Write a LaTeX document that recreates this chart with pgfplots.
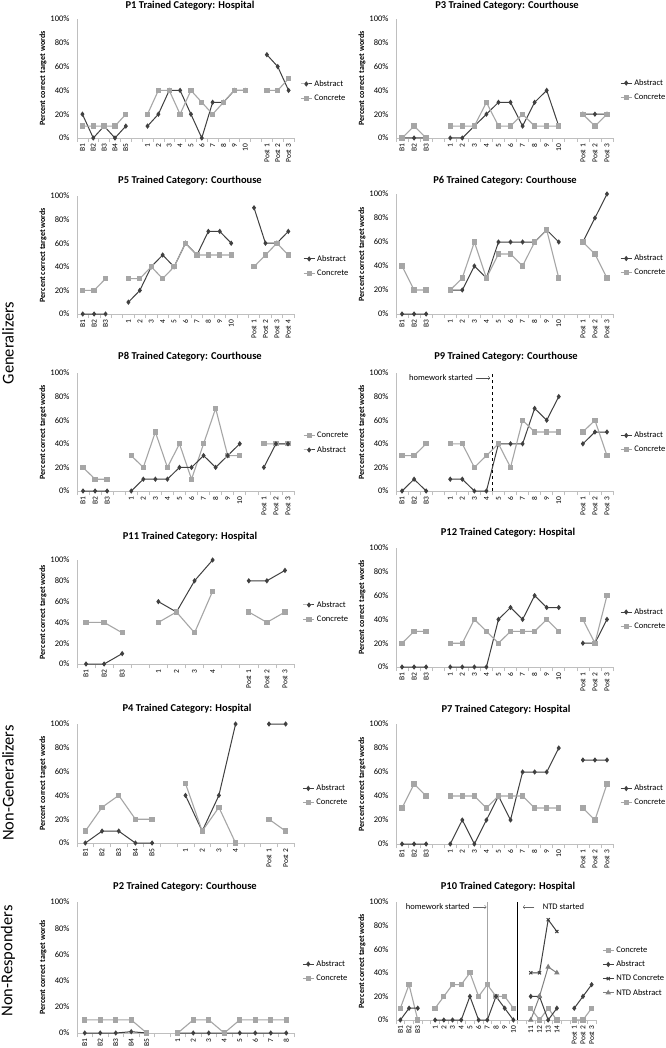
\documentclass[border=0pt]{standalone}
\usepackage{pgfplots}
\pgfplotsset{compat=1.18}
\usepackage{pgfplotstable}
\usepackage{fontspec}
\setmainfont{Carlito}
\definecolor{absc}{HTML}{404040}
\definecolor{conc}{HTML}{A6A6A6}
\definecolor{axc}{HTML}{BFBFBF}
\definecolor{ntda}{HTML}{808080}

% P1: B1-B5, gap, 1-10, gap, Post1-3
\pgfplotstableread{
x a c
0 20 10
1 0 10
2 10 10
3 0 10
4 10 20
5 nan nan
6 10 20
7 20 40
8 40 40
9 40 20
10 20 40
11 0 30
12 30 20
13 30 30
14 40 40
15 40 40
16 nan nan
17 70 40
18 60 40
19 40 50
}\tPone
% P3
\pgfplotstableread{
x a c
0 0 0
1 0 10
2 0 0
3 nan nan
4 0 10
5 0 10
6 10 10
7 20 30
8 30 10
9 30 10
10 10 20
11 30 10
12 40 10
13 10 10
14 nan nan
15 20 20
16 20 10
17 20 20
}\tPthree
% P5
\pgfplotstableread{
x a c
0 0 20
1 0 20
2 0 30
3 nan nan
4 10 30
5 20 30
6 40 40
7 50 30
8 40 40
9 60 60
10 50 50
11 70 50
12 70 50
13 60 50
14 nan nan
15 90 40
16 60 50
17 60 60
18 70 50
}\tPfive
% P6
\pgfplotstableread{
x a c
0 0 40
1 0 20
2 0 20
3 nan nan
4 20 20
5 20 30
6 40 60
7 30 30
8 60 50
9 60 50
10 60 40
11 60 60
12 70 70
13 60 30
14 nan nan
15 60 60
16 80 50
17 100 30
}\tPsix
% P8
\pgfplotstableread{
x a c
0 0 20
1 0 10
2 0 10
3 nan nan
4 0 30
5 10 20
6 10 50
7 10 20
8 20 40
9 20 10
10 30 40
11 20 70
12 30 30
13 40 30
14 nan nan
15 20 40
16 40 40
17 40 40
}\tPeight
% P9
\pgfplotstableread{
x a c
0 0 30
1 10 30
2 0 40
3 nan nan
4 10 40
5 10 40
6 0 20
7 0 30
8 40 40
9 40 20
10 40 60
11 70 50
12 60 50
13 80 50
14 nan nan
15 40 50
16 50 60
17 50 30
}\tPnine
% P11
\pgfplotstableread{
x a c
0 0 40
1 0 40
2 10 30
3 nan nan
4 60 40
5 50 50
6 80 30
7 100 70
8 nan nan
9 80 50
10 80 40
11 90 50
}\tPeleven
% P12
\pgfplotstableread{
x a c
0 0 20
1 0 30
2 0 30
3 nan nan
4 0 20
5 0 20
6 0 40
7 0 30
8 40 20
9 50 30
10 40 30
11 60 30
12 50 40
13 50 30
14 nan nan
15 20 40
16 20 20
17 40 60
}\tPtwelve
% P4
\pgfplotstableread{
x a c
0 0 10
1 10 30
2 10 40
3 0 20
4 0 20
5 nan nan
6 40 50
7 10 10
8 40 30
9 100 0
10 nan nan
11 100 20
12 100 10
}\tPfour
% P7
\pgfplotstableread{
x a c
0 0 30
1 0 50
2 0 40
3 nan nan
4 0 40
5 20 40
6 0 40
7 20 30
8 40 40
9 20 40
10 60 40
11 60 30
12 60 30
13 80 30
14 nan nan
15 70 30
16 70 20
17 70 50
}\tPseven
% P2
\pgfplotstableread{
x a c
0 0 10
1 0 10
2 0 10
3 1 10
4 0 0
5 nan nan
6 0 0
7 0 10
8 0 10
9 0 0
10 0 10
11 0 10
12 0 10
13 0 10
}\tPtwo
% P10
\pgfplotstableread{
x c a
0 10 0
1 30 10
2 0 10
3 nan nan
4 10 0
5 20 0
6 30 0
7 30 0
8 40 20
9 20 0
10 30 0
11 20 20
12 20 10
13 10 0
14 nan nan
15 10 20
16 0 20
17 10 0
18 0 10
19 nan nan
20 0 10
21 0 20
22 10 30
}\tPten
\pgfplotstableread{
x nc na
15 40 0
16 40 20
17 85 45
18 75 40
}\tPtenntd

\pgfplotsset{
 panel/.style={
  scale only axis, clip=false, unbounded coords=jump,
  axis lines=left, axis line style={-, draw=axc, line width=0.8pt},
  ymin=0, ymax=100, ytick={0,20,40,60,80,100},
  yticklabels={0\%,20\%,40\%,60\%,80\%,100\%},
  major tick length=0pt, minor tick length=4pt, tick align=outside,
  major tick style={draw=none},
  minor x tick style={draw=axc, line width=0.6pt},
  yticklabel style={font=\fontsize{8.5}{9}\selectfont, xshift=-4pt},
  xticklabel style={font=\fontsize{7.5}{8}\selectfont, rotate=90, anchor=east},
  xticklabel shift=2.5pt,
  ylabel={Percent correct target words},
  every axis y label/.style={at={(axis description cs:-0.157,0.5)}, rotate=90, anchor=center, font=\bfseries\fontsize{8}{9}\selectfont},
  legend style={draw=none, fill=none, font=\fontsize{8.5}{10}\selectfont, anchor=west, row sep=3pt, inner sep=0pt},
  legend cell align=left,
  legend image code/.code={\draw[mark repeat=2,mark phase=2,##1] plot coordinates {(0pt,0pt)(5.5pt,0pt)(11pt,0pt)};},
  /pgf/number format/assume math mode=true,
 },
 sabs/.style={color=absc, line width=1pt, mark=diamond*, mark size=1.9pt, mark options={solid, fill=absc}},
 scon/.style={color=conc, line width=1.1pt, mark=square*, mark size=2.1pt, mark options={solid, fill=conc}},
 xA/.style={xmin=-0.5, xmax=17.5, minor xtick={-0.5,0.5,...,17.5},
   xtick={0,1,2,4,5,6,7,8,9,10,11,12,13,15,16,17},
   xticklabels={B1,B2,B3,1,2,3,4,5,6,7,8,9,10,Post 1,Post 2,Post 3}},
}
\newcommand{\ttl}[3]{\node[font=\bfseries\fontsize{10.5}{12}\selectfont] at (#1pt,-#2pt) {#3};}

\begin{document}
\begin{tikzpicture}
\fill[white] (0,0) rectangle (665pt,-1048pt);
\path[use as bounding box] (0,0) rectangle (665pt,-1048pt);

\node[rotate=90, font=\fontsize{16.5}{18}\selectfont] at (8pt,-343pt) {Generalizers};
\node[rotate=90, font=\fontsize{16.5}{18}\selectfont] at (8pt,-783pt) {Non-Generalizers};
\node[rotate=90, font=\fontsize{16.5}{18}\selectfont] at (8pt,-961pt) {Non-Responders};

\ttl{190}{6}{P1 Trained Category: Hospital}
\ttl{507}{6}{P3 Trained Category: Courthouse}
\ttl{190}{181}{P5 Trained Category: Courthouse}
\ttl{505}{181}{P6 Trained Category: Courthouse}
\ttl{190}{357}{P8 Trained Category: Courthouse}
\ttl{506}{357}{P9 Trained Category: Courthouse}
\ttl{190}{537}{P11 Trained Category: Hospital}
\ttl{508}{533}{P12 Trained Category: Hospital}
\ttl{187}{709}{P4 Trained Category: Hospital}
\ttl{506}{710}{P7 Trained Category: Hospital}
\ttl{185}{887}{P2 Trained Category: Courthouse}
\ttl{508}{887}{P10 Trained Category: Hospital}

% P1
\begin{axis}[panel, at={(77pt,-138pt)}, anchor=south west, width=217pt, height=119pt,
 xmin=-0.5, xmax=19.5, minor xtick={-0.5,0.5,...,19.5},
 xtick={0,1,2,3,4,6,7,8,9,10,11,12,13,14,15,17,18,19},
 xticklabels={B1,B2,B3,B4,B5,1,2,3,4,5,6,7,8,9,10,Post 1,Post 2,Post 3},
 legend style={at={(axis description cs:1.028,0.395)}}]
\addplot[sabs] table[x=x,y=a] \tPone; \addlegendentry{Abstract}
\addplot[scon] table[x=x,y=c] \tPone; \addlegendentry{Concrete}
\end{axis}

% P3
\begin{axis}[panel, xA, at={(396pt,-138pt)}, anchor=south west, width=217pt, height=119pt,
 legend style={at={(axis description cs:1.032,0.403)}}]
\addplot[sabs] table[x=x,y=a] \tPthree; \addlegendentry{Abstract}
\addplot[scon] table[x=x,y=c] \tPthree; \addlegendentry{Concrete}
\end{axis}

% P5
\begin{axis}[panel, at={(77pt,-314pt)}, anchor=south west, width=217pt, height=118pt,
 xmin=-0.5, xmax=18.5, minor xtick={-0.5,0.5,...,18.5},
 xtick={0,1,2,4,5,6,7,8,9,10,11,12,13,15,16,17,18},
 xticklabels={B1,B2,B3,1,2,3,4,5,6,7,8,9,10,Post 1,Post 2,Post 3,Post 4},
 legend style={at={(axis description cs:1.041,0.407)}}]
\addplot[sabs] table[x=x,y=a] \tPfive; \addlegendentry{Abstract}
\addplot[scon] table[x=x,y=c] \tPfive; \addlegendentry{Concrete}
\end{axis}

% P6
\begin{axis}[panel, xA, at={(396pt,-314pt)}, anchor=south west, width=217pt, height=120pt,
 legend style={at={(axis description cs:1.032,0.404)}}]
\addplot[sabs] table[x=x,y=a] \tPsix; \addlegendentry{Abstract}
\addplot[scon] table[x=x,y=c] \tPsix; \addlegendentry{Concrete}
\end{axis}

% P8
\begin{axis}[panel, xA, at={(77pt,-491pt)}, anchor=south west, width=217pt, height=118pt,
 legend style={at={(axis description cs:1.041,0.407)}}]
\addplot[scon] table[x=x,y=c] \tPeight; \addlegendentry{Concrete}
\addplot[sabs] table[x=x,y=a] \tPeight; \addlegendentry{Abstract}
\end{axis}

% P9
\begin{axis}[panel, xA, at={(396pt,-491pt)}, anchor=south west, width=217pt, height=118pt,
 legend style={at={(axis description cs:1.032,0.411)}}]
\draw[black, dashed, line width=0.6pt] (axis cs:7.5,0) -- (axis cs:7.5,100);
\node[anchor=east, inner sep=0pt, font=\fontsize{8.5}{9}\selectfont] at (axis cs:5.89,95.8) {homework started};
\draw[->, black!70, line width=0.5pt] (axis cs:6.11,95.8) -- (axis cs:7.3,95.8);
\addplot[sabs] table[x=x,y=a] \tPnine; \addlegendentry{Abstract}
\addplot[scon] table[x=x,y=c] \tPnine; \addlegendentry{Concrete}
\end{axis}

% P11
\begin{axis}[panel, at={(77pt,-664pt)}, anchor=south west, width=217pt, height=104pt,
 xmin=-0.5, xmax=11.5, minor xtick={-0.5,0.5,...,11.5},
 xtick={0,1,2,4,5,6,7,9,10,11},
 xticklabels={B1,B2,B3,1,2,3,4,Post 1,Post 2,Post 3},
 legend style={at={(axis description cs:1.04,0.5)}}]
\addplot[sabs] table[x=x,y=a] \tPeleven; \addlegendentry{Abstract}
\addplot[scon] table[x=x,y=c] \tPeleven; \addlegendentry{Concrete}
\end{axis}

% P12
\begin{axis}[panel, xA, at={(396pt,-667pt)}, anchor=south west, width=217pt, height=119pt,
 legend style={at={(axis description cs:1.032,0.403)}}]
\addplot[sabs] table[x=x,y=a] \tPtwelve; \addlegendentry{Abstract}
\addplot[scon] table[x=x,y=c] \tPtwelve; \addlegendentry{Concrete}
\end{axis}

% P4
\begin{axis}[panel, at={(77pt,-843pt)}, anchor=south west, width=217pt, height=119pt,
 xmin=-0.5, xmax=12.5, minor xtick={-0.5,0.5,...,12.5},
 xtick={0,1,2,3,4,6,7,8,9,11,12},
 xticklabels={B1,B2,B3,B4,B5,1,2,3,4,Post 1,Post 2},
 legend style={at={(axis description cs:1.037,0.40)}}]
\addplot[sabs] table[x=x,y=a] \tPfour; \addlegendentry{Abstract}
\addplot[scon] table[x=x,y=c] \tPfour; \addlegendentry{Concrete}
\end{axis}

% P7
\begin{axis}[panel, xA, at={(396pt,-844pt)}, anchor=south west, width=217pt, height=120pt,
 legend style={at={(axis description cs:1.032,0.404)}}]
\addplot[sabs] table[x=x,y=a] \tPseven; \addlegendentry{Abstract}
\addplot[scon] table[x=x,y=c] \tPseven; \addlegendentry{Concrete}
\end{axis}

% P2
\begin{axis}[panel, at={(77pt,-1033pt)}, anchor=south west, width=217pt, height=131pt,
 xmin=-0.5, xmax=13.5, minor xtick={-0.5,0.5,...,13.5},
 xtick={0,1,2,3,4,6,7,8,9,10,11,12,13},
 xticklabels={B1,B2,B3,B4,B5,1,2,3,4,5,6,7,8},
 legend style={at={(axis description cs:1.037,0.473)}}]
\addplot[sabs] table[x=x,y=a] \tPtwo; \addlegendentry{Abstract}
\addplot[scon] table[x=x,y=c] \tPtwo; \addlegendentry{Concrete}
\end{axis}

% P10
\begin{axis}[panel, at={(396pt,-1020pt)}, anchor=south west, width=200pt, height=118pt,
 xmin=-0.5, xmax=22.5, minor xtick={-0.5,0.5,...,22.5},
 xtick={0,1,2,4,5,6,7,8,9,10,11,12,13,15,16,17,18,20,21,22},
 xticklabels={B1,B2,B3,1,2,3,4,5,6,7,8,9,10,11,12,13,14,Post 1,Post 2,Post 3},
 every axis y label/.style={at={(axis description cs:-0.17,0.5)}, rotate=90, anchor=center, font=\bfseries\fontsize{8}{9}\selectfont},
 legend style={at={(axis description cs:1.03,0.41)}}]
\draw[conc, line width=1.6pt] (axis cs:10,0) -- (axis cs:10,100);
\draw[black, line width=0.7pt] (axis cs:13.5,0) -- (axis cs:13.5,100);
\node[anchor=east, inner sep=0pt, font=\fontsize{8.5}{9}\selectfont] at (axis cs:7.98,95.8) {homework started};
\draw[->, black!60, line width=0.5pt] (axis cs:8.4,95.8) -- (axis cs:9.9,95.8);
\draw[->, black!60, line width=0.5pt] (axis cs:15.4,95.8) -- (axis cs:14.1,95.8);
\node[anchor=west, inner sep=0pt, font=\fontsize{8.5}{9}\selectfont] at (axis cs:16.36,95.8) {NTD started};
\addplot[scon] table[x=x,y=c] \tPten; \addlegendentry{Concrete}
\addplot[sabs] table[x=x,y=a] \tPten; \addlegendentry{Abstract}
\addplot[color=absc, line width=1pt, mark=x, mark size=2.2pt, mark options={solid}] table[x=x,y=nc] \tPtenntd; \addlegendentry{NTD Concrete}
\addplot[color=ntda, line width=1pt, mark=triangle*, mark size=2.2pt, mark options={solid, fill=ntda}] table[x=x,y=na] \tPtenntd; \addlegendentry{NTD Abstract}
\end{axis}
\end{tikzpicture}
\end{document}
